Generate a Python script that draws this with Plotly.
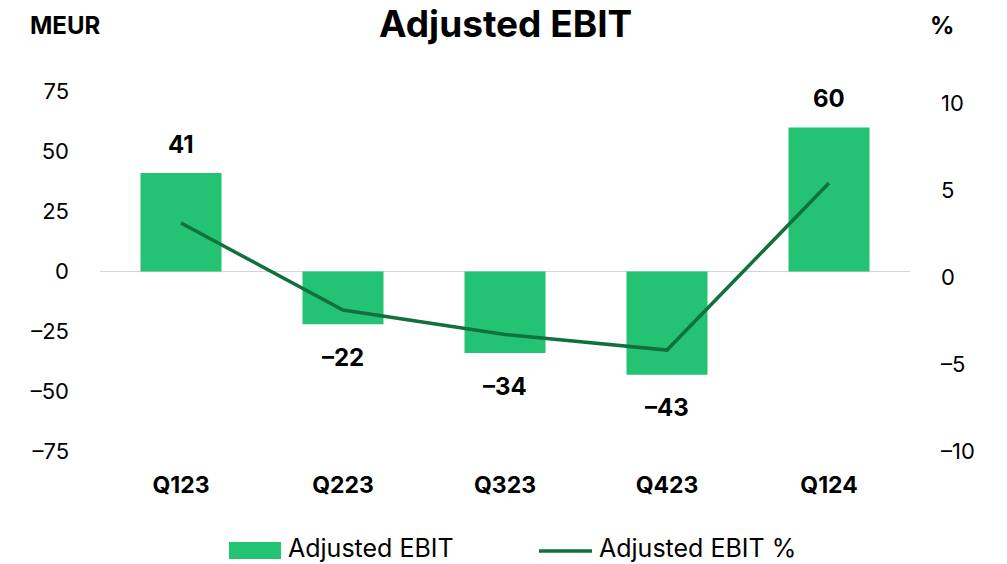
import plotly.graph_objects as go

# Quarterly adjusted EBIT (MEUR) and margin (%)
quarters = ["Q123", "Q223", "Q323", "Q423", "Q124"]
ebit_meur = [41, -22, -34, -43, 60]
ebit_pct = [3.1, -1.9, -3.3, -4.2, 5.4]

left_ticks = [-75, -50, -25, 0, 25, 50, 75]
right_ticks = [-10, -5, 0, 5, 10]

BAR_GREEN = "#23C373"
LINE_GREEN = "#12703F"
FONT = "Inter, 'Open Sans', sans-serif"

W, H = 1007, 564
L, R, T, B = 100, 910, 80, 460  # plot area in pixels


def px(x):
    return (x - L) / (R - L)


def py(y):
    return (B - y) / (B - T)


fig = go.Figure()

fig.add_trace(go.Bar(
    x=quarters, y=ebit_meur, name="Adjusted EBIT",
    marker=dict(color=BAR_GREEN, line=dict(width=0)),
    width=0.5, yaxis="y", showlegend=False,
))

fig.add_trace(go.Scatter(
    x=quarters, y=ebit_pct, name="Adjusted EBIT %",
    mode="lines", line=dict(color=LINE_GREEN, width=3.5),
    yaxis="y2", showlegend=False,
))

# Value labels above / below the bars
for q, v in zip(quarters, ebit_meur):
    fig.add_annotation(
        x=q, y=v, xref="x", yref="y", text=str(v).replace("-", "\u2013"),
        showarrow=False, yanchor="middle",
        yshift=29 if v >= 0 else -33,
        font=dict(family=FONT, size=24, color="#000000", weight="bold"),
    )

# Title and axis unit captions
fig.add_annotation(x=px(505), y=py(23), xref="paper", yref="paper",
                   text="Adjusted EBIT", showarrow=False,
                   xanchor="center", yanchor="middle",
                   font=dict(family=FONT, size=37, color="#000000", weight="bold"))
fig.add_annotation(x=px(28), y=py(25), xref="paper", yref="paper",
                   text="MEUR", showarrow=False,
                   xanchor="left", yanchor="middle",
                   font=dict(family=FONT, size=24, color="#000000", weight="bold"))
fig.add_annotation(x=px(942), y=py(25), xref="paper", yref="paper",
                   text="%", showarrow=False,
                   xanchor="center", yanchor="middle",
                   font=dict(family=FONT, size=24, color="#000000", weight="bold"))

# Legend drawn below the plot
fig.add_shape(type="rect", xref="paper", yref="paper",
              x0=px(229), x1=px(281), y0=py(559), y1=py(542),
              fillcolor=BAR_GREEN, line=dict(width=0))
fig.add_annotation(x=px(286), y=py(548), xref="paper", yref="paper",
                   text="Adjusted EBIT", showarrow=False,
                   xanchor="left", yanchor="middle",
                   font=dict(family=FONT, size=25, color="#000000"))
fig.add_shape(type="line", xref="paper", yref="paper",
              x0=px(539), x1=px(592), y0=py(551), y1=py(551),
              line=dict(color=LINE_GREEN, width=3.5))
fig.add_annotation(x=px(597), y=py(548), xref="paper", yref="paper",
                   text="Adjusted EBIT %", showarrow=False,
                   xanchor="left", yanchor="middle",
                   font=dict(family=FONT, size=25, color="#000000"))

# Left axis: 0 at y=271.5 px, 2.4 px per MEUR
left_range = [(271.5 - B) / 2.4, (271.5 - T) / 2.4]
# Right axis: 0 at y=277 px, 17.4 px per %
right_range = [(277 - B) / 17.4, (277 - T) / 17.4]

fig.update_layout(
    width=W, height=H,
    margin=dict(l=L, r=W - R, t=T, b=H - B, pad=0),
    paper_bgcolor="#FFFFFF", plot_bgcolor="#FFFFFF",
    font=dict(family=FONT, color="#000000"),
    bargap=0.5,
    xaxis=dict(
        type="category", showgrid=False, zeroline=False, showline=False,
        ticks="", tickfont=dict(family=FONT, size=23, color="#000000", weight="bold"),
        ticklabelstandoff=9,
    ),
    yaxis=dict(
        range=left_range, tickvals=left_ticks,
        ticktext=[str(t).replace("-", "\u2013") for t in left_ticks],
        showgrid=False, zeroline=True, zerolinecolor="#D4D4D4", zerolinewidth=1,
        showline=False, ticks="",
        tickfont=dict(family=FONT, size=22, color="#000000"),
        ticklabelstandoff=30,
    ),
    yaxis2=dict(
        range=right_range, tickvals=right_ticks,
        ticktext=[str(t).replace("-", "\u2013") for t in right_ticks],
        overlaying="y", side="right",
        showgrid=False, zeroline=False, showline=False, ticks="",
        tickfont=dict(family=FONT, size=22, color="#000000"),
        ticklabelstandoff=30,
    ),
)

fig.write_html("out.html")
